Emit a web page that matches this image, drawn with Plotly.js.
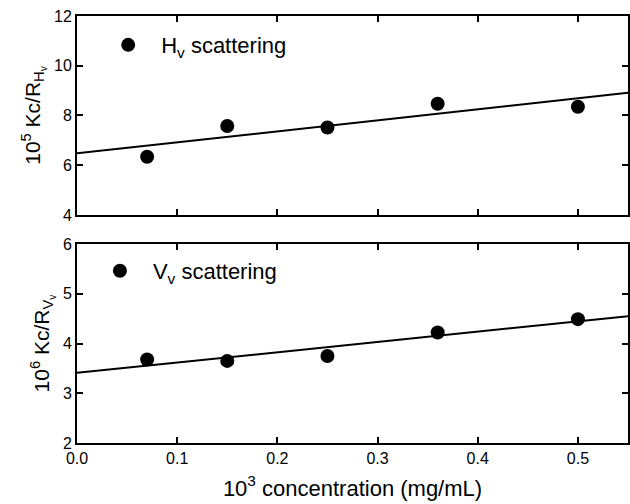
<!DOCTYPE html>
<html><head><meta charset="utf-8">
<script src="https://cdn.plot.ly/plotly-3.0.1.min.js"></script>
<style>body{margin:0;background:#fff}</style>
</head><body>
<div id="chart" style="width:630px;height:504px"></div>
<script>
const concentration = [0.07, 0.15, 0.25, 0.36, 0.50];
const hvValues = [6.34, 7.58, 7.52, 8.47, 8.35];
const vvValues = [3.68, 3.65, 3.75, 4.22, 4.49];
const fitX = [0, 0.55];
const hvFit = [6.48, 8.91];
const vvFit = [3.41, 4.55];
const xTicks = [0, 0.1, 0.2, 0.3, 0.4, 0.5];
const xTickLabels = ['0.0', '0.1', '0.2', '0.3', '0.4', '0.5'];
const hvTicks = [4, 6, 8, 10, 12];
const vvTicks = [2, 3, 4, 5, 6];

const FONT = 'Liberation Sans, Arial, sans-serif';
const marker = {size: 14, color: '#000'};
const traces = [
  {x: concentration, y: hvValues, mode: 'markers', marker, xaxis: 'x', yaxis: 'y',
   name: 'H<sub>v</sub> scattering', legend: 'legend', showlegend: true},
  {x: fitX, y: hvFit, mode: 'lines', line: {color: '#000', width: 2}, xaxis: 'x', yaxis: 'y', showlegend: false},
  {x: concentration, y: vvValues, mode: 'markers', marker, xaxis: 'x2', yaxis: 'y2',
   name: 'V<sub>v</sub> scattering', legend: 'legend2', showlegend: true},
  {x: fitX, y: vvFit, mode: 'lines', line: {color: '#000', width: 2}, xaxis: 'x2', yaxis: 'y2', showlegend: false}
];

const axBase = {showline: true, linecolor: '#000', linewidth: 2, mirror: 'ticks', ticks: 'inside',
  ticklen: 6, tickwidth: 2, tickcolor: '#000', showgrid: false, zeroline: false,
  tickfont: {family: FONT, size: 16, color: '#000'}};

const layout = {
  width: 630, height: 504,
  margin: {l: 77, r: 2, t: 16, b: 61},
  paper_bgcolor: '#fff', plot_bgcolor: '#fff',
  font: {family: FONT, color: '#000'},
  xaxis: Object.assign({}, axBase, {domain: [0, 1], range: [0, 0.55], anchor: 'y', tickvals: xTicks, showticklabels: false}),
  yaxis: Object.assign({}, axBase, {domain: [0.534, 1], range: [4, 12], anchor: 'x', tickvals: hvTicks,
    title: {text: '10<sup>5</sup> Kc/R<sub>H<sub>v</sub></sub>', font: {family: FONT, size: 21}, standoff: 8}}),
  xaxis2: Object.assign({}, axBase, {domain: [0, 1], range: [0, 0.55], anchor: 'y2', tickvals: xTicks, ticktext: xTickLabels,
    title: {text: '10<sup>3</sup> concentration (mg/mL)', font: {family: FONT, size: 22}, standoff: 14}}),
  yaxis2: Object.assign({}, axBase, {domain: [0, 0.466], range: [2, 6], anchor: 'x2', tickvals: vvTicks,
    title: {text: '10<sup>6</sup> Kc/R<sub>V<sub>v</sub></sub>', font: {family: FONT, size: 21}, standoff: 8}}),
  legend: {x: 0.033, y: 0.932, xanchor: 'left', yanchor: 'middle', bgcolor: 'rgba(0,0,0,0)',
    font: {family: FONT, size: 22, color: '#000'}, itemwidth: 56},
  legend2: {x: 0.018, y: 0.403, xanchor: 'left', yanchor: 'middle', bgcolor: 'rgba(0,0,0,0)',
    font: {family: FONT, size: 22, color: '#000'}, itemwidth: 56}
};

Plotly.newPlot('chart', traces, layout, {staticPlot: true});
</script>
</body></html>
